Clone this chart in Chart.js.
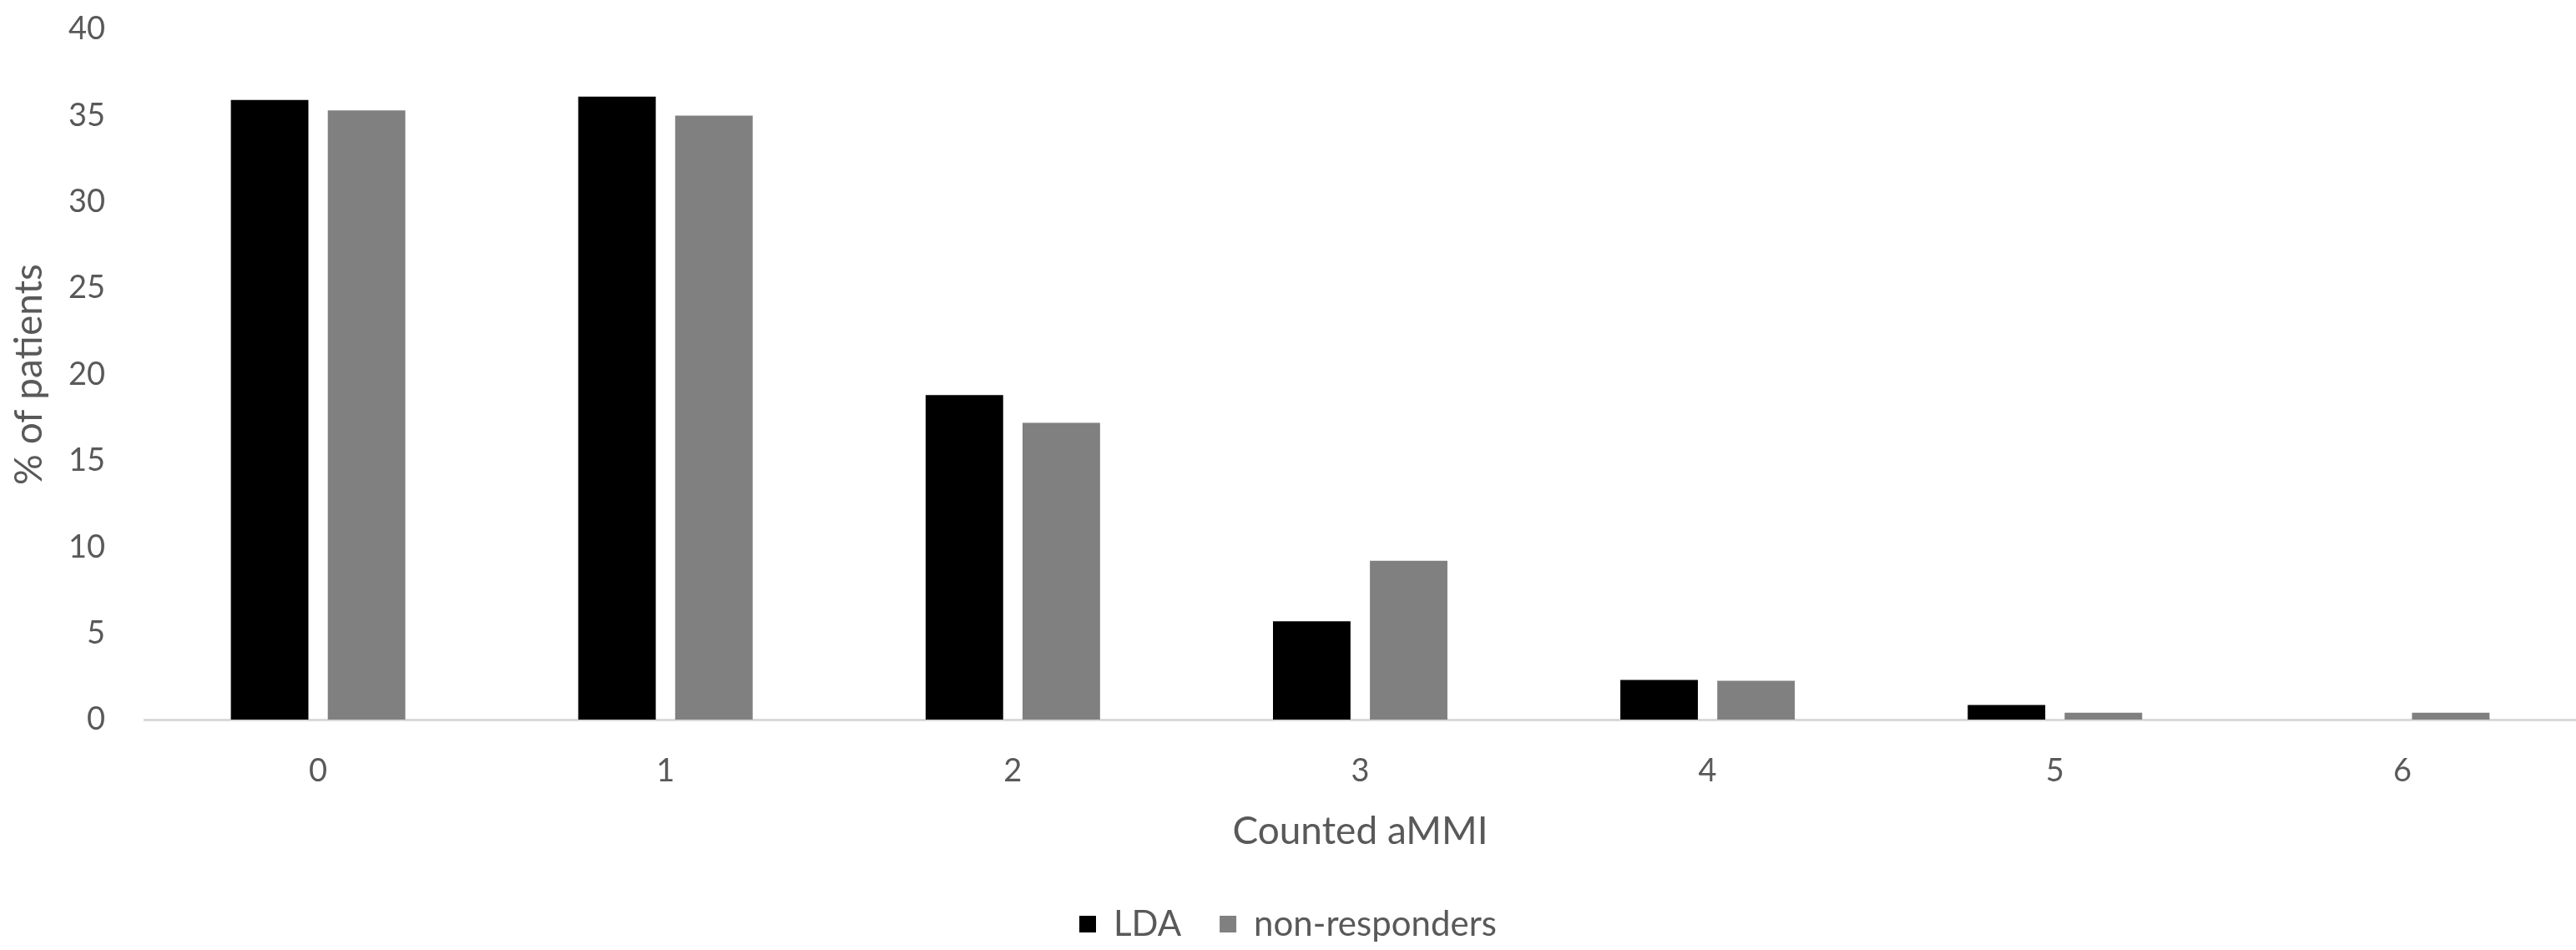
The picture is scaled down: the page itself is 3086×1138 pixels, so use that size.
<!DOCTYPE html>
<html>
<head>
<meta charset="utf-8">
<script src="https://cdn.jsdelivr.net/npm/chart.js@4"></script>
<style>
  body { margin: 0; background: #ffffff; }
  #wrap { width: 3086px; height: 1138px; }
</style>
</head>
<body>
<div id="wrap"><canvas id="amChart" width="3086" height="1138"></canvas></div>
<script>
// Datos
const categories = ['0', '1', '2', '3', '4', '5', '6'];
const ldaValues = [35.9, 36.1, 18.8, 5.7, 2.3, 0.85, 0];
const nonResponderValues = [35.3, 35.0, 17.2, 9.2, 2.25, 0.4, 0.4];
const yTicks = [0, 5, 10, 15, 20, 25, 30, 35, 40];

const textColor = '#595959';
const fontFamily = 'Lato, "Open Sans", sans-serif';

const ctx = document.getElementById('amChart').getContext('2d');
const amChart = new Chart(ctx, {
    type: 'bar',
    data: {
        labels: categories,
        datasets: [{
            label: 'LDA',
            data: ldaValues,
            backgroundColor: '#000000',
            borderWidth: 0
        }, {
            label: 'non-responders',
            data: nonResponderValues,
            backgroundColor: '#808080',
            borderWidth: 0
        }]
    },
    options: {
        responsive: false,
        devicePixelRatio: 1,
        animation: false,
        categoryPercentage: 0.558,
        barPercentage: 0.8,
        layout: {
            padding: { top: 35, right: 0, bottom: 0, left: 0 }
        },
        plugins: {
            tooltip: { enabled: false },
            legend: {
                position: 'bottom',
                labels: {
                    color: textColor,
                    font: { family: fontFamily, size: 42 },
                    boxWidth: 20,
                    boxHeight: 20,
                    padding: 46
                }
            }
        },
        scales: {
            x: {
                grid: { display: false, drawTicks: false },
                border: { display: true, color: '#d9d9d9', width: 3 },
                afterFit: function(scale) {
                    scale.height = 178;
                },
                ticks: {
                    color: textColor,
                    font: { family: fontFamily, size: 38 },
                    padding: 39
                },
                title: {
                    display: true,
                    text: 'Counted aMMI',
                    color: textColor,
                    font: { family: fontFamily, size: 46 },
                    padding: { top: 10, bottom: 16 }
                }
            },
            y: {
                min: 0,
                max: 40,
                grid: { display: false, drawTicks: false },
                border: { display: false },
                afterBuildTicks: function(scale) {
                    scale.ticks = yTicks.map(v => ({ value: v }));
                },
                afterFit: function(scale) {
                    scale.width = 173;
                    // la separación de las etiquetas no debe empujar el área del gráfico
                    scale.paddingTop = 23;
                    scale.paddingBottom = 23;
                },
                ticks: {
                    color: textColor,
                    font: { family: fontFamily, size: 38 },
                    padding: 47
                },
                title: {
                    display: true,
                    text: '% of patients',
                    color: textColor,
                    font: { family: fontFamily, size: 46 },
                    padding: { top: 8, bottom: 0 }
                }
            }
        }
    }
});
</script>
</body>
</html>
